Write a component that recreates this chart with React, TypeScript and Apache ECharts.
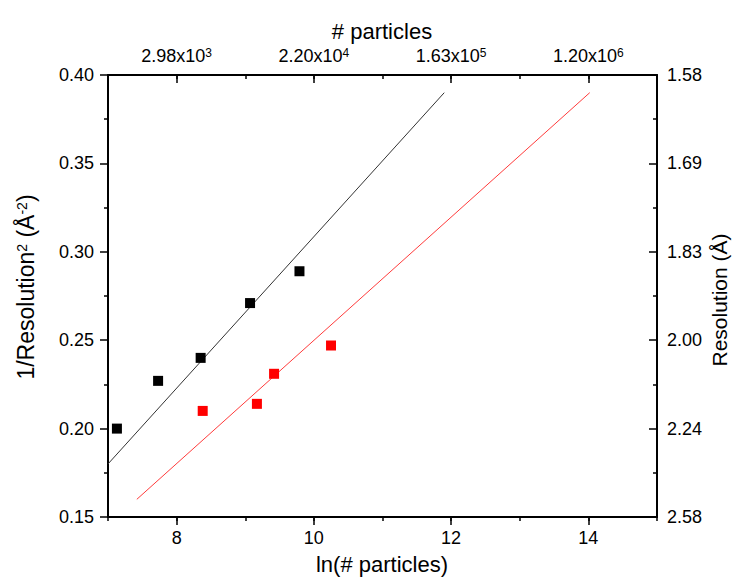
import React, { useEffect, useRef } from "react";
import * as echarts from "echarts";

// ---- data ----
const blackX = [7.13, 7.73, 8.35, 9.07, 9.79];
const blackY = [0.2, 0.227, 0.24, 0.271, 0.289];
const redX = [8.38, 9.17, 9.42, 10.25];
const redY = [0.21, 0.214, 0.231, 0.247];
const blackFitX = [7.0, 11.9];
const blackFitY = [0.18, 0.39];
const redFitX = [7.42, 14.02];
const redFitY = [0.16, 0.39];

const xMajorTicks = [8, 10, 12, 14];
const bottomTickLabels = ["8", "10", "12", "14"];
const topTickMantissa = ["2.98", "2.20", "1.63", "1.20"];
const topTickExponent = ["3", "4", "5", "6"];
const leftTickLabels = ["0.15", "0.20", "0.25", "0.30", "0.35", "0.40"];
const rightTickLabels = ["2.58", "2.24", "2.00", "1.83", "1.69", "1.58"];

const FONT = '"Liberation Sans", Arial, sans-serif';

const pairs = (xs: number[], ys: number[]) => xs.map((x, i) => [x, ys[i]]);

export default function App() {
  const ref = useRef<HTMLDivElement>(null);
  useEffect(() => {
    if (!ref.current) return;
    const chart = echarts.init(ref.current, null, { renderer: "svg" });
    const line = { show: true, lineStyle: { color: "#000", width: 2 } };
    const baseX = { type: "value", min: 7, max: 15, interval: 1, gridIndex: 0 };
    const labelStyle = { color: "#000", fontSize: 18, fontFamily: FONT };
    const majorIdx = (v: number) => xMajorTicks.indexOf(v);
    chart.setOption({
      animation: false,
      backgroundColor: "#fff",
      grid: { left: 108, right: 77, top: 75, bottom: 60, containLabel: false },
      xAxis: [
        {
          ...baseX,
          position: "bottom",
          axisLine: line,
          splitLine: { show: false },
          axisTick: { show: true, length: 4, lineStyle: { color: "#000", width: 1.5 } },
          axisLabel: {
            ...labelStyle,
            margin: 12,
            formatter: (v: number) => (majorIdx(v) >= 0 ? bottomTickLabels[majorIdx(v)] : ""),
          },
        },
        {
          ...baseX,
          position: "bottom",
          axisLine: { show: false },
          splitLine: { show: false },
          axisLabel: { show: false },
          axisTick: {
            show: true,
            length: 8,
            customValues: xMajorTicks,
            lineStyle: { color: "#000", width: 1.5 },
          },
        },
        {
          ...baseX,
          position: "top",
          axisLine: line,
          splitLine: { show: false },
          axisTick: { show: true, inside: true, length: 4, lineStyle: { color: "#000", width: 1.5 } },
          axisLabel: {
            ...labelStyle,
            margin: 10,
            formatter: (v: number) => {
              const i = majorIdx(v);
              return i >= 0 ? `${topTickMantissa[i]}x10{sup|${topTickExponent[i]}}` : "";
            },
            rich: {
              sup: { fontSize: 12, fontFamily: FONT, color: "#000", verticalAlign: "top", lineHeight: 12 },
            },
          },
        },
        {
          ...baseX,
          position: "top",
          axisLine: { show: false },
          splitLine: { show: false },
          axisLabel: { show: false },
          axisTick: {
            show: true,
            inside: true,
            length: 8,
            customValues: xMajorTicks,
            lineStyle: { color: "#000", width: 1.5 },
          },
        },
      ],
      yAxis: [
        {
          type: "value",
          min: 0.15,
          max: 0.4,
          interval: 0.05,
          position: "left",
          axisLine: line,
          splitLine: { show: false },
          axisTick: { show: true, length: 8, lineStyle: { color: "#000", width: 1.5 } },
          minorTick: { show: true, splitNumber: 2, length: 4, lineStyle: { color: "#000", width: 1.5 } },
          minorSplitLine: { show: false },
          axisLabel: {
            ...labelStyle,
            margin: 14,
            formatter: (v: number) => leftTickLabels[Math.round((v - 0.15) / 0.05)],
          },
        },
        {
          type: "value",
          min: 0.15,
          max: 0.4,
          interval: 0.05,
          position: "right",
          axisLine: line,
          splitLine: { show: false },
          axisTick: { show: true, inside: true, length: 8, lineStyle: { color: "#000", width: 1.5 } },
          minorTick: { show: true, splitNumber: 2, length: 4, lineStyle: { color: "#000", width: 1.5 } },
          minorSplitLine: { show: false },
          axisLabel: {
            ...labelStyle,
            margin: 10,
            formatter: (v: number) => rightTickLabels[Math.round((v - 0.15) / 0.05)],
          },
        },
      ],
      series: [
        {
          type: "line",
          xAxisIndex: 0,
          yAxisIndex: 0,
          data: pairs(blackFitX, blackFitY),
          showSymbol: false,
          symbol: "none",
          lineStyle: { color: "#333", width: 1 },
          z: 2,
        },
        {
          type: "line",
          xAxisIndex: 0,
          yAxisIndex: 0,
          data: pairs(redFitX, redFitY),
          showSymbol: false,
          symbol: "none",
          lineStyle: { color: "#ff3b3b", width: 1 },
          z: 2,
        },
        {
          type: "scatter",
          xAxisIndex: 0,
          yAxisIndex: 0,
          data: pairs(blackX, blackY),
          symbol: "rect",
          symbolSize: 10,
          itemStyle: { color: "#000", opacity: 1 },
          z: 3,
        },
        {
          type: "scatter",
          xAxisIndex: 0,
          yAxisIndex: 0,
          data: pairs(redX, redY),
          symbol: "rect",
          symbolSize: 10,
          itemStyle: { color: "#ff0000", opacity: 1 },
          z: 3,
        },
      ],
      graphic: [
        {
          type: "text",
          x: 382,
          y: 31,
          style: { text: "# particles", fontSize: 22, fontFamily: FONT, fill: "#000", align: "center", verticalAlign: "middle" },
        },
        {
          type: "text",
          x: 382,
          y: 564,
          style: { text: "ln(# particles)", fontSize: 22, fontFamily: FONT, fill: "#000", align: "center", verticalAlign: "middle" },
        },
        {
          type: "text",
          x: 26,
          y: 287,
          rotation: Math.PI / 2,
          style: {
            text: "1/Resolution{sup|2} (Å{sup|-2})",
            fontSize: 23,
            fontFamily: FONT,
            fill: "#000",
            align: "center",
            verticalAlign: "middle",
            rich: { sup: { fontSize: 14, fontFamily: FONT, fill: "#000", verticalAlign: "top", lineHeight: 14 } },
          },
        },
        {
          type: "text",
          x: 719,
          y: 300,
          rotation: Math.PI / 2,
          style: { text: "Resolution (Å)", fontSize: 21, fontFamily: FONT, fill: "#000", align: "center", verticalAlign: "middle" },
        },
      ],
    });
    return () => chart.dispose();
  }, []);
  return <div ref={ref} style={{ position: "absolute", left: 0, top: 0, width: 734, height: 577 }} />;
}
